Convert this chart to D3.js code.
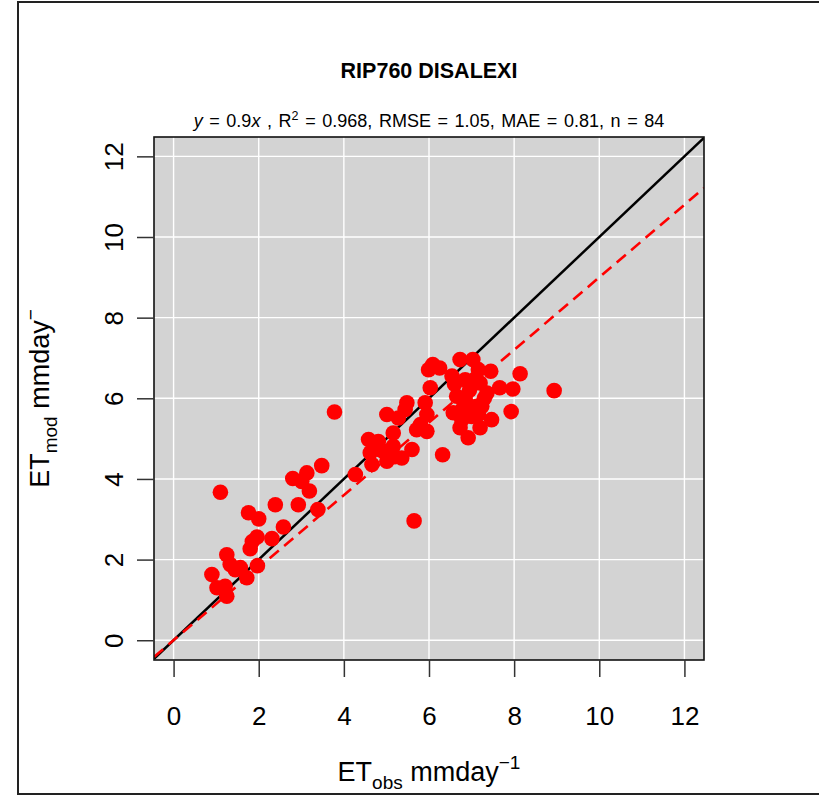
<!DOCTYPE html>
<html>
<head>
<meta charset="utf-8">
<script src="https://cdn.jsdelivr.net/npm/d3@7"></script>
<style>
  body { margin: 0; background: #fff; }
  svg { display: block; font-family: "Liberation Sans", Arial, sans-serif; }
</style>
</head>
<body>
<div id="chart"></div>
<script>
var obsValues = [
    1.10, 2.80, 3.13, 3.48, 3.01, 3.19, 2.39, 2.93, 2.58, 3.39,
    4.27, 1.76, 2.00, 1.96, 2.31, 1.80, 1.25, 1.97, 1.33, 1.57,
    1.72, 0.90, 1.02, 1.21, 1.25, 1.45, 1.85,
    3.78, 6.09, 5.99, 6.03, 5.91, 5.48, 5.44, 5.01, 5.28, 6.73,
    7.03, 6.54, 6.85, 7.16, 7.45, 7.20, 7.36, 6.65, 6.85, 7.12,
    7.16, 6.57, 6.77, 6.73, 6.92, 7.20, 7.47, 5.95, 5.71, 5.95,
    5.16, 4.58, 4.81, 5.16, 4.62, 5.60, 5.01, 5.36, 4.66, 6.32,
    8.94, 8.14, 7.93, 7.97, 7.66, 5.65,
    6.95, 7.05, 6.60, 7.30, 6.80, 7.00, 6.25, 5.80, 4.90, 5.20, 7.24
];
var modValues = [
    3.67, 4.01, 4.15, 4.33, 3.94, 3.70, 3.36, 3.36, 2.81, 3.24,
    4.11, 3.16, 3.01, 2.56, 2.52, 2.27, 2.12, 1.85, 1.88, 1.80,
    1.55, 1.63, 1.30, 1.34, 1.09, 1.75, 2.45,
    5.66, 6.84, 6.71, 6.26, 5.89, 5.89, 5.72, 5.60, 5.51, 6.96,
    6.96, 6.55, 6.46, 6.71, 6.67, 6.38, 6.13, 6.05, 5.97, 5.80,
    5.60, 5.64, 5.47, 5.27, 5.02, 5.27, 5.47, 5.60, 5.22, 5.18,
    5.14, 4.98, 4.93, 4.81, 4.65, 4.73, 4.44, 4.52, 4.36, 4.60,
    6.19, 6.61, 5.67, 6.23, 6.26, 2.96,
    6.20, 6.45, 6.35, 6.00, 5.75, 5.55, 6.75, 5.35, 4.70, 4.55, 5.80
];
var xTicks = [0, 2, 4, 6, 8, 10, 12];
var yTicks = [0, 2, 4, 6, 8, 10, 12];
var slope = 0.9;
var title = 'RIP760 DISALEXI';
var stats = { r2: '0.968', rmse: '1.05', mae: '0.81', n: '84' };

var points = obsValues.map(function(d, i) {
    return { obs: d, mod: modValues[i] };
});

var W = 819, H = 796;
var margin = { top: 137, right: 115, bottom: 136, left: 154 };
var width = W - margin.left - margin.right,
    height = H - margin.top - margin.bottom;

var xScale = d3.scaleLinear()
    .domain([-0.46, 12.46])
    .range([0, width]);

var yScale = d3.scaleLinear()
    .domain([-0.49, 12.48])
    .range([height, 0]);

var svg = d3.select('#chart').append('svg')
    .attr('width', W)
    .attr('height', H);

// outer frame
svg.append('rect')
    .attr('x', 18).attr('y', 2)
    .attr('width', W + 10).attr('height', 792)
    .style('fill', 'none')
    .style('stroke', '#222')
    .style('stroke-width', 2);

var g = svg.append('g')
    .attr('transform', 'translate(' + margin.left + ',' + margin.top + ')');

g.append('clipPath').attr('id', 'plotclip')
    .append('rect').attr('width', width).attr('height', height);

g.append('rect')
    .attr('width', width)
    .attr('height', height)
    .style('fill', '#d3d3d3');

// grid
g.selectAll('.vgrid').data(xTicks)
    .enter().append('line')
    .attr('x1', function(d) { return xScale(d); })
    .attr('x2', function(d) { return xScale(d); })
    .attr('y1', 0).attr('y2', height)
    .style('stroke', '#fff').style('stroke-width', 1.4);

g.selectAll('.hgrid').data(yTicks)
    .enter().append('line')
    .attr('y1', function(d) { return yScale(d); })
    .attr('y2', function(d) { return yScale(d); })
    .attr('x1', 0).attr('x2', width)
    .style('stroke', '#fff').style('stroke-width', 1.4);

var xd = xScale.domain();
var lines = g.append('g').attr('clip-path', 'url(#plotclip)');

// 1:1 line
lines.append('line')
    .attr('x1', xScale(xd[0])).attr('y1', yScale(xd[0]))
    .attr('x2', xScale(xd[1])).attr('y2', yScale(xd[1]))
    .style('stroke', '#000').style('stroke-width', 2.5);

// fitted y = 0.9x
lines.append('line')
    .attr('x1', xScale(xd[0])).attr('y1', yScale(slope * xd[0]))
    .attr('x2', xScale(xd[1])).attr('y2', yScale(slope * xd[1]))
    .style('stroke', '#ff0000').style('stroke-width', 2.6)
    .style('stroke-dasharray', '12,7');

g.selectAll('circle').data(points)
    .enter().append('circle')
    .attr('cx', function(d) { return xScale(d.obs); })
    .attr('cy', function(d) { return yScale(d.mod); })
    .attr('r', 7.8)
    .style('fill', '#ff0000');

g.append('rect')
    .attr('width', width)
    .attr('height', height)
    .style('fill', 'none')
    .style('stroke', '#111')
    .style('stroke-width', 1.6);

// axes
var xAxis = d3.axisBottom(xScale).tickValues(xTicks).tickSize(17).tickPadding(30);
var xGuide = g.append('g').attr('transform', 'translate(0,' + height + ')').call(xAxis);
xGuide.select('.domain').remove();
xGuide.selectAll('line').style('stroke', '#333').style('stroke-width', 1.5);
xGuide.selectAll('text')
    .style('font-size', '26px')
    .style('font-family', '"Liberation Sans", Arial, sans-serif')
    .style('fill', '#000');

var yAxis = d3.axisLeft(yScale).tickValues(yTicks).tickSize(17);
var yGuide = g.append('g').call(yAxis);
yGuide.select('.domain').remove();
yGuide.selectAll('line').style('stroke', '#333').style('stroke-width', 1.5);
yGuide.selectAll('text')
    .attr('x', 0).attr('dy', 0)
    .attr('transform', 'translate(-31,0) rotate(-90)')
    .style('text-anchor', 'middle')
    .style('font-size', '26px')
    .style('font-family', '"Liberation Sans", Arial, sans-serif')
    .style('fill', '#000');

var cx = margin.left + width / 2;

// title and stats line
svg.append('text')
    .attr('x', cx).attr('y', 78)
    .style('text-anchor', 'middle')
    .style('font-size', '21.5px')
    .style('font-weight', 'bold')
    .text(title);

var sub = svg.append('text')
    .attr('x', cx).attr('y', 127)
    .style('text-anchor', 'middle')
    .style('font-size', '18px')
    .style('word-spacing', '1.6px');
sub.append('tspan').style('font-style', 'italic').text('y');
sub.append('tspan').text(' = ' + slope);
sub.append('tspan').style('font-style', 'italic').text('x');
sub.append('tspan').text(' ,  R');
sub.append('tspan').attr('dy', -7).style('font-size', '12.5px').text('2');
sub.append('tspan').attr('dy', 7).text(' = ' + stats.r2 + ',  RMSE = ' + stats.rmse +
    ',  MAE = ' + stats.mae + ',  n = ' + stats.n);

// axis titles
var xl = svg.append('text')
    .attr('x', cx).attr('y', 781)
    .style('text-anchor', 'middle')
    .style('font-size', '27px');
xl.append('tspan').text('ET');
xl.append('tspan').attr('dy', 8).style('font-size', '19px').text('obs');
xl.append('tspan').attr('dy', -8).text('  mmday');
xl.append('tspan').attr('dy', -12).style('font-size', '19px').text('\u22121');

var yl = svg.append('text')
    .attr('transform', 'translate(49,' + (margin.top + height / 2) + ') rotate(-90)')
    .style('text-anchor', 'middle')
    .style('font-size', '27px');
yl.append('tspan').text('ET');
yl.append('tspan').attr('dy', 8).style('font-size', '19px').text('mod');
yl.append('tspan').attr('dy', -8).text('  mmday');
yl.append('tspan').attr('dy', -12).style('font-size', '19px').text('\u2212');
</script>
</body>
</html>
